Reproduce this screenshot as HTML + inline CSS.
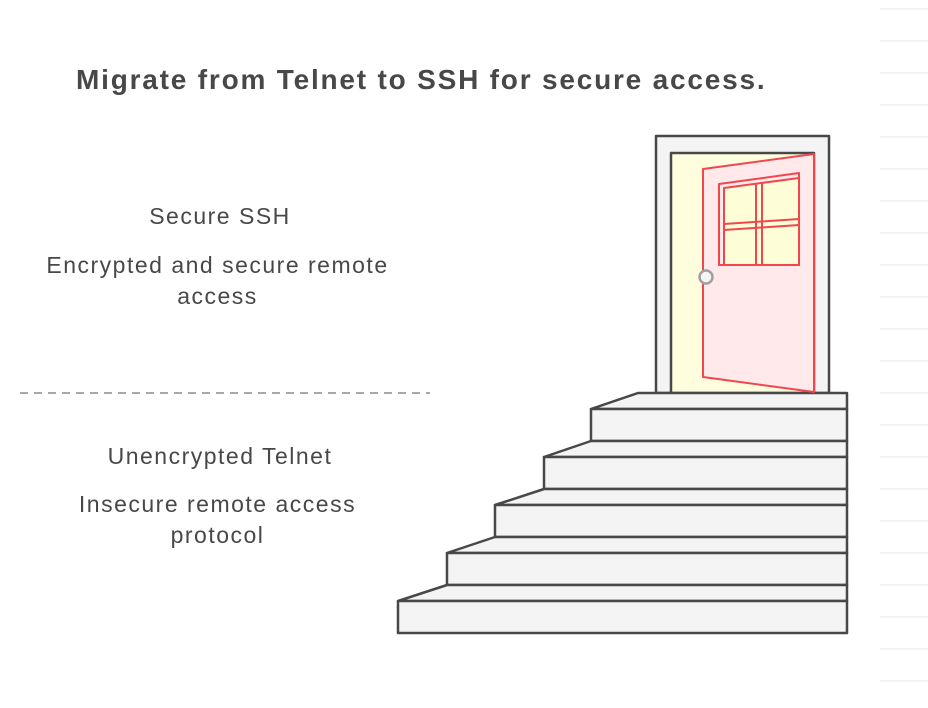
<!DOCTYPE html>
<html><head><style>
body{margin:0;width:928px;height:708px;background:#fff;overflow:hidden;font-family:"Liberation Sans",sans-serif;}
.t{position:absolute;color:#484848;text-align:center;font-size:23px;line-height:31px;letter-spacing:1.5px;}
</style></head><body>
<svg width="928" height="708" style="position:absolute;left:0;top:0">
<g stroke="#f4f4f4" stroke-width="2">
<line x1="880" y1="9" x2="928" y2="9"/><line x1="880" y1="41" x2="928" y2="41"/><line x1="880" y1="73" x2="928" y2="73"/><line x1="880" y1="105" x2="928" y2="105"/><line x1="880" y1="137" x2="928" y2="137"/><line x1="880" y1="169" x2="928" y2="169"/><line x1="880" y1="201" x2="928" y2="201"/><line x1="880" y1="233" x2="928" y2="233"/><line x1="880" y1="265" x2="928" y2="265"/><line x1="880" y1="297" x2="928" y2="297"/><line x1="880" y1="329" x2="928" y2="329"/><line x1="880" y1="361" x2="928" y2="361"/><line x1="880" y1="393" x2="928" y2="393"/><line x1="880" y1="425" x2="928" y2="425"/><line x1="880" y1="457" x2="928" y2="457"/><line x1="880" y1="489" x2="928" y2="489"/><line x1="880" y1="521" x2="928" y2="521"/><line x1="880" y1="553" x2="928" y2="553"/><line x1="880" y1="585" x2="928" y2="585"/><line x1="880" y1="617" x2="928" y2="617"/><line x1="880" y1="649" x2="928" y2="649"/><line x1="880" y1="681" x2="928" y2="681"/>
</g>
<line x1="20" y1="393" x2="430" y2="393" stroke="#a8a8a8" stroke-width="2" stroke-dasharray="8,6"/>
<g stroke="#484848" stroke-width="2.5" fill="#f4f4f4" stroke-linejoin="round">
<rect x="656" y="136" width="173" height="257"/>
<rect x="671" y="153" width="143" height="240" fill="#fefedf"/>
<polygon points="591,409 638,393 847,393 847,409"/>
<rect x="591" y="409" width="256" height="32"/>
<polygon points="544,457 591,441 847,441 847,457"/>
<rect x="544" y="457" width="303" height="32"/>
<polygon points="495,505 544,489 847,489 847,505"/>
<rect x="495" y="505" width="352" height="32"/>
<polygon points="447,553 495,537 847,537 847,553"/>
<rect x="447" y="553" width="400" height="32"/>
<polygon points="398,601 447,585 847,585 847,601"/>
<rect x="398" y="601" width="449" height="32"/>
</g>
<g stroke="#f0474f" stroke-width="2" stroke-linejoin="round">
<polygon points="703,169 814,154 814,392 703,377" fill="#ffe9ea"/>
<polygon points="719,184 799,173 799,265 719,265" fill="#ffe9ea"/>
<polygon points="724,188 799,178 799,265 724,265" fill="#fdfdd8"/>
<line x1="756" y1="183" x2="756" y2="265"/><line x1="762" y1="182" x2="762" y2="265"/>
<line x1="724" y1="224" x2="799" y2="219"/><line x1="724" y1="230" x2="799" y2="225"/>
</g>
<circle cx="706" cy="277" r="6.5" fill="#f4f4f4" stroke="#a0a0a0" stroke-width="2.5"/>
</svg>
<div class="t" style="left:76px;top:64px;font-size:28px;font-weight:bold;text-align:left;white-space:nowrap;letter-spacing:1.8px">Migrate from Telnet to SSH for secure access.</div>
<div class="t" style="left:10px;width:420px;top:201px">Secure SSH</div>
<div class="t" style="left:5px;width:425px;top:250px">Encrypted and secure remote<br>access</div>
<div class="t" style="left:10px;width:420px;top:441px">Unencrypted Telnet</div>
<div class="t" style="left:5px;width:425px;top:489px">Insecure remote access<br>protocol</div>
</body></html>
